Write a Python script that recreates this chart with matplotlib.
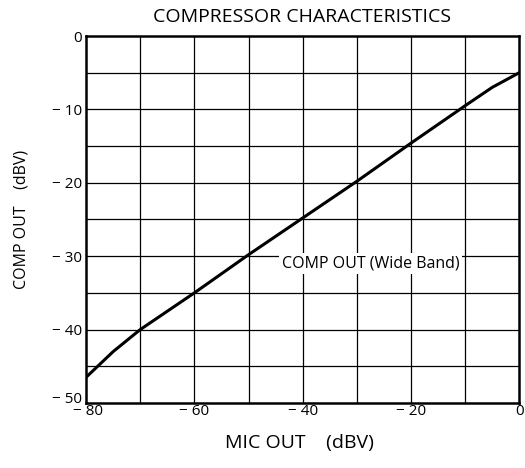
import numpy as np
import matplotlib
matplotlib.use("Agg")
import matplotlib.pyplot as plt
import matplotlib.transforms as mtransforms

# curve
mic_out = [-80, -75, -70, -65, -60, -50, -40, -30, -20, -10, -5, 0]
comp_out = [-46.5, -43.0, -40.0, -37.5, -35.0, -29.8, -24.8, -19.8, -14.6, -9.5, -7.0, -5.0]

x_ticks = [-80, -60, -40, -20, 0]
x_ticklabels = ["− 80", "− 60", "− 40", "− 20", "0"]
y_ticks = [0, -10, -20, -30, -40, -50]
y_ticklabels = ["0", "− 10", "− 20", "− 30", "− 40", "− 50"]

plt.rcParams['font.family'] = ['Open Sans', 'DejaVu Sans']

fig = plt.figure(figsize=(5.25, 4.68), dpi=100)
ax = fig.add_axes([0.164, 0.139, 0.825, 0.784])

ax.set_xlim(-80, 0)
ax.set_ylim(-50, 0)

# grid: every 10 in x, every 5 in y
for gx in np.arange(-70, 0, 10):
    ax.axvline(gx, color='black', lw=0.9, zorder=1)
for gy in np.arange(-45, 0, 5):
    ax.axhline(gy, color='black', lw=0.9, zorder=1)

ax.plot(mic_out, comp_out, color='black', lw=2.2, zorder=3)

ax.text(-27.5, -31, "COMP OUT (Wide Band)", ha='center', va='center',
        fontsize=11.5, zorder=4,
        bbox=dict(facecolor='white', edgecolor='none', pad=2))

ax.set_xticks(x_ticks)
ax.set_xticklabels(x_ticklabels)
ax.set_yticks(y_ticks)
ax.set_yticklabels(y_ticklabels)
ax.tick_params(length=0, labelsize=11)
ax.tick_params(axis='x', pad=1)
ax.tick_params(axis='y', pad=3)
for s in ax.spines.values():
    s.set_linewidth(1.8)

# lift the bottom y label so it clears the "-80"
lbl = ax.get_yticklabels()[-1]
lbl.set_transform(lbl.get_transform() +
                  mtransforms.ScaledTranslation(0, 5/100, fig.dpi_scale_trans))
lbl = ax.get_xticklabels()[0]
lbl.set_transform(lbl.get_transform() +
                  mtransforms.ScaledTranslation(2/100, 0, fig.dpi_scale_trans))

fig.text(299/525, 1 - 443/468, "MIC OUT    (dBV)", fontsize=14,
         ha='center', va='center')
fig.text(22/525, 1 - 219/468, "COMP OUT    (dBV)", fontsize=11.5,
         ha='center', va='center', rotation=90)
fig.text(302/525, 1 - 17/468, "COMPRESSOR CHARACTERISTICS", fontsize=14,
         ha='center', va='center')

fig.savefig("out.png", dpi=100)
